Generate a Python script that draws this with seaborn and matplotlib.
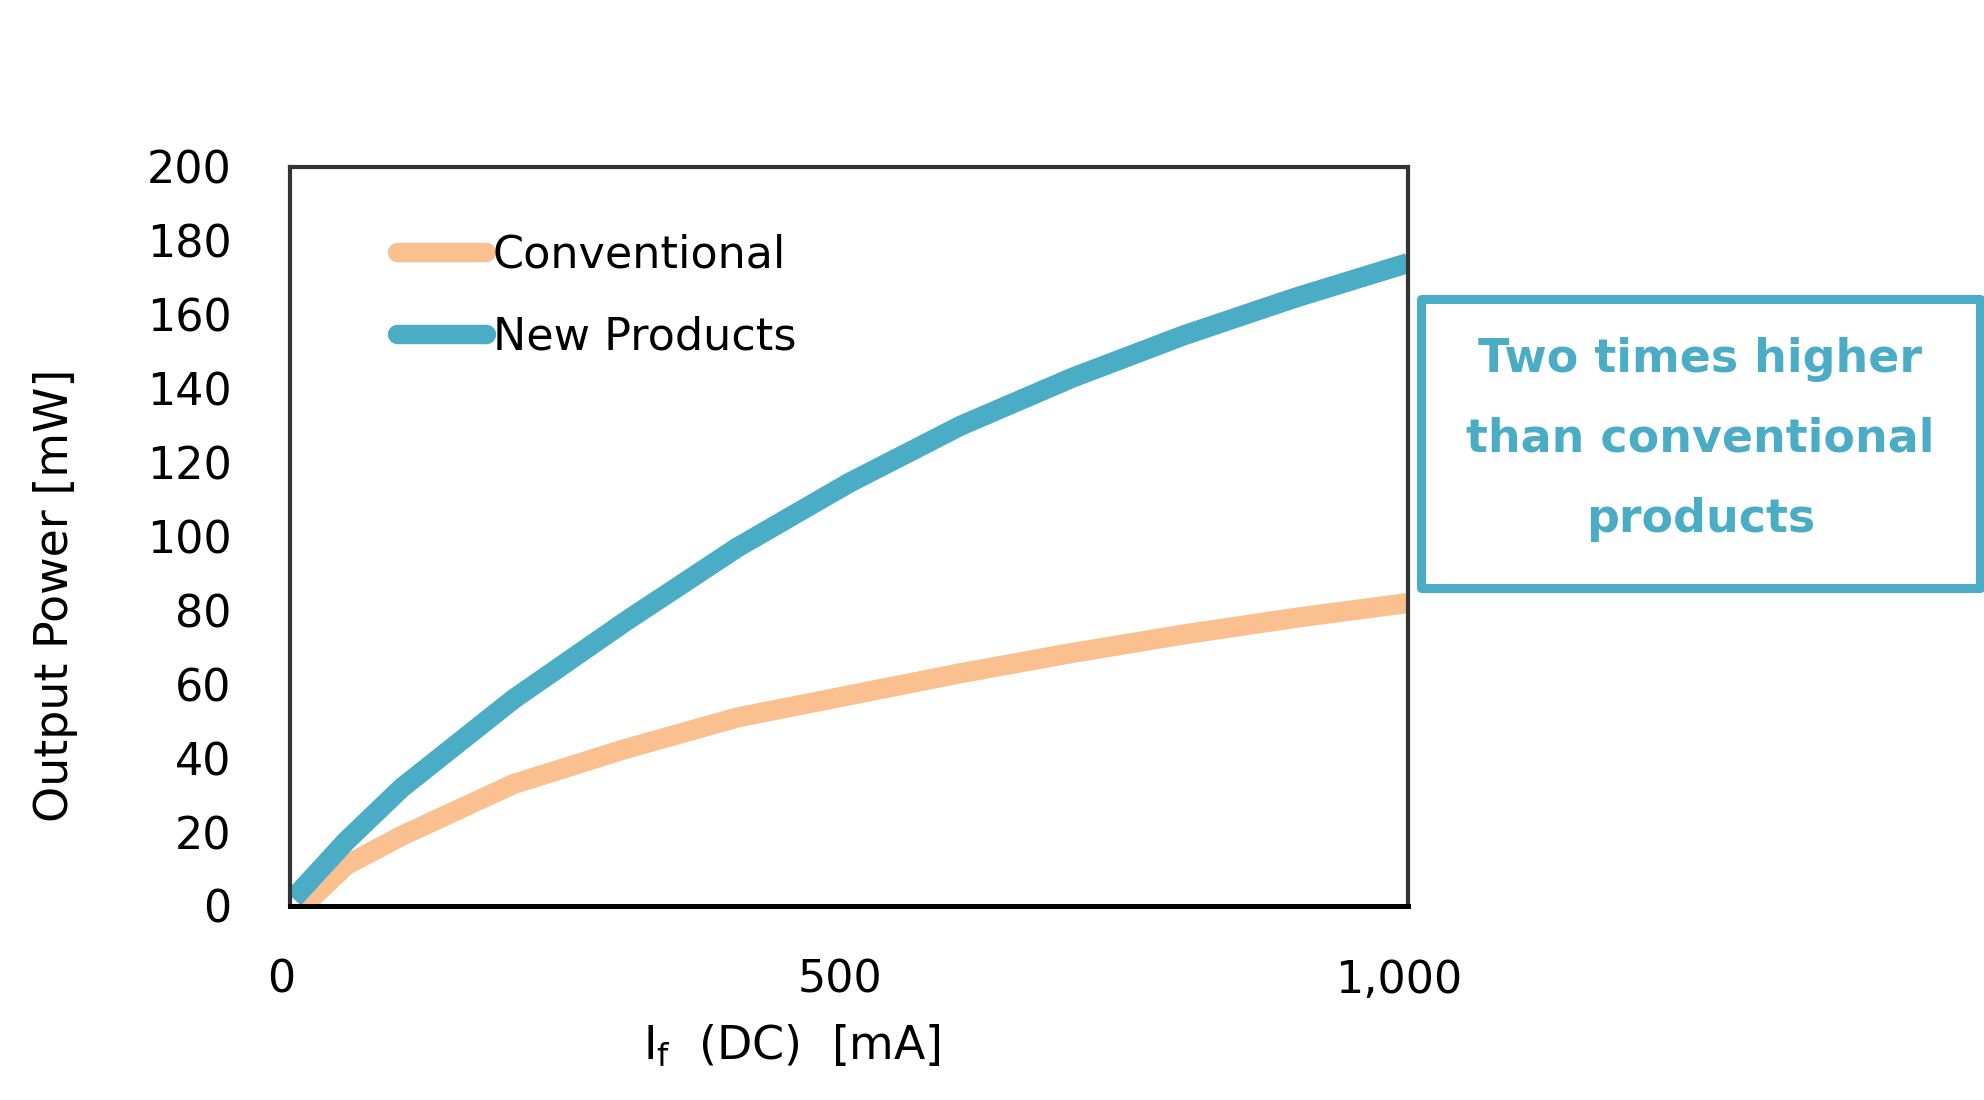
import matplotlib
matplotlib.use("Agg")
import matplotlib.pyplot as plt
import matplotlib.transforms as mtransforms
from matplotlib.lines import Line2D
from matplotlib.patches import Rectangle
import seaborn as sns
import pandas as pd

# ---- data ----
current_conv = [12, 50, 100, 200, 300, 400, 500, 600, 700, 800, 900, 1000]
power_conv = [0, 11, 19, 33, 42.5, 51, 57, 63, 68.5, 73.5, 78, 82]
current_new = [3, 50, 100, 200, 300, 400, 500, 600, 700, 800, 900, 1000]
power_new = [2, 17.5, 32, 56, 77, 97, 114.5, 130, 143, 154.5, 164.7, 174]
series_names = ["Conventional", "New Products"]
colors = ["#FAC090", "#4BACC6"]
x_ticks = [0, 500, 1000]
x_tick_labels = ["0", "500", "1,000"]
y_ticks = [0, 20, 40, 60, 80, 100, 120, 140, 160, 180, 200]
note_text = "Two times higher\nthan conventional\nproducts"

df = pd.concat([
    pd.DataFrame({"current": current_conv, "power": power_conv, "series": series_names[0]}),
    pd.DataFrame({"current": current_new, "power": power_new, "series": series_names[1]}),
])

sns.set_style("white")
plt.rcParams["font.family"] = ["DejaVu Sans"]
plt.rcParams["text.color"] = "black"
plt.rcParams["axes.labelcolor"] = "black"
plt.rcParams["xtick.color"] = "black"
plt.rcParams["ytick.color"] = "black"

fig = plt.figure(figsize=(19.84, 11.0), dpi=100)
ax = fig.add_axes([0.1462, 0.1764, 0.5635, 0.6718])

sns.lineplot(data=df, x="current", y="power", hue="series", hue_order=series_names,
             palette=colors, linewidth=14.5, ax=ax, legend=False, sort=False)
for ln in ax.get_lines():
    ln.set_solid_capstyle("butt")
    ln.set_solid_joinstyle("round")

ax.set_xlim(0, 1000)
ax.set_ylim(0, 200)
ax.set_xticks(x_ticks)
ax.set_xticklabels(x_tick_labels)
ax.set_yticks(y_ticks)
ax.tick_params(axis="both", length=0, labelsize=32, labelcolor="black")
ax.tick_params(axis="y", pad=42)
ax.tick_params(axis="x", pad=38)
offset = mtransforms.ScaledTranslation(-9 / 100, 0, fig.dpi_scale_trans)
for lab in ax.get_xticklabels():
    lab.set_transform(lab.get_transform() + offset)

for side in ["left", "top", "right"]:
    ax.spines[side].set_color("#333333")
    ax.spines[side].set_linewidth(3)
    ax.spines[side].set_visible(True)
ax.spines["bottom"].set_color("black")
ax.spines["bottom"].set_linewidth(3.6)
ax.spines["bottom"].set_visible(True)

ax.set_xlabel(r"$\mathregular{I_f}$  (DC)  [mA]", fontsize=33, color="black")
ax.set_ylabel("Output Power [mW]", fontsize=33, color="black")
ax.xaxis.set_label_coords(0.449, -0.158)
ax.yaxis.set_label_coords(-0.19, 0.421)

handles = [Line2D([], [], color=c, lw=14, solid_capstyle="round") for c in colors]
leg = ax.legend(handles, series_names, loc="upper left", bbox_to_anchor=(0.076, 0.94),
                frameon=False, fontsize=32, handlelength=2.0, handletextpad=0.15,
                labelspacing=0.88, borderpad=0)

# annotation box
bx0, bx1 = 1421 / 1984, 1980 / 1984
by0, by1 = 1 - 588 / 1100, 1 - 299 / 1100
fig.patches.append(Rectangle((bx0, by0), bx1 - bx0, by1 - by0, transform=fig.transFigure,
                             fill=False, edgecolor=colors[1], linewidth=6.5, joinstyle="round"))
fig.text((bx0 + bx1) / 2, 1 - 439 / 1100, note_text, ha="center", va="center",
         fontsize=33, fontweight="bold", color=colors[1], linespacing=2.0)

fig.savefig("out.png", dpi=100, facecolor="white")
